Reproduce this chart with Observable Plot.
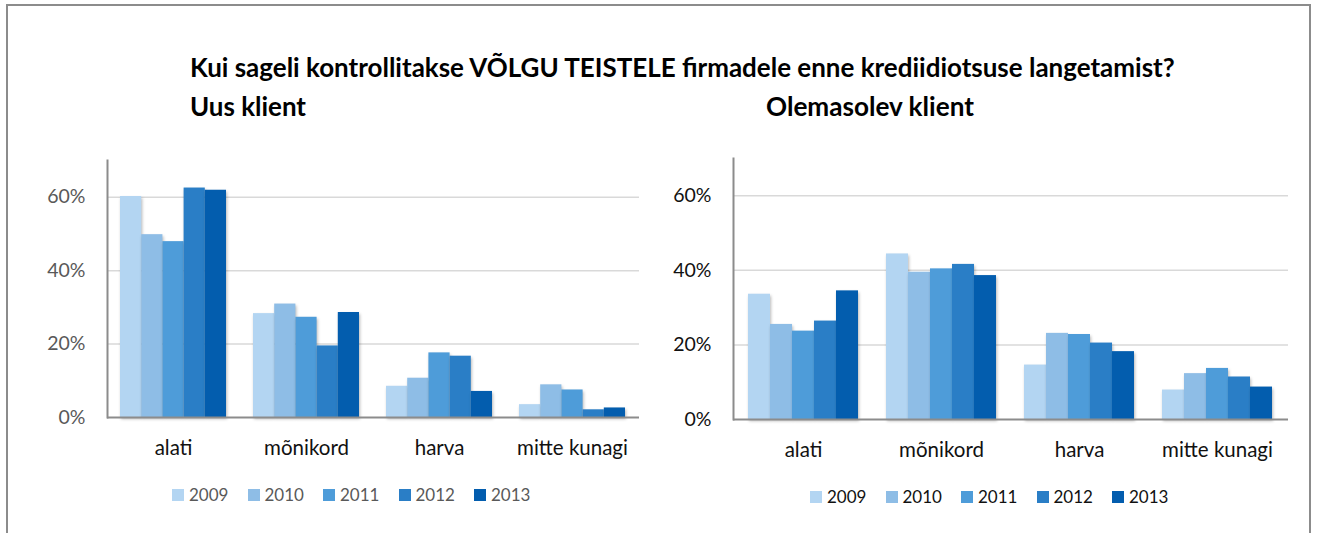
<!DOCTYPE html>
<html>
<head>
<meta charset="utf-8">
<script src="https://cdn.jsdelivr.net/npm/d3@7"></script>
<script src="https://cdn.jsdelivr.net/npm/@observablehq/plot@0.6"></script>
<style>
  body { margin: 0; background: #fff; }
  #root { position: relative; width: 1319px; height: 533px; overflow: hidden; font-family: Lato, "Open Sans", sans-serif; background: #fff; }
  #frame { position: absolute; left: 6px; top: 4px; width: 1305px; height: 560px; border: 2px solid #8c8c8c; box-sizing: border-box; }
  .abs { position: absolute; white-space: nowrap; }
  #title { left: 190px; top: 51px; font-weight: 700; font-size: 23px; color: #000; }
  .sub { top: 90px; font-weight: 700; font-size: 23px; color: #000; }
  .legend { position: absolute; display: flex; align-items: center; font-size: 17px; }
  .legend .item { display: flex; align-items: center; width: 75.5px; }
  .legend .sw { width: 12px; height: 12px; margin-right: 5px; flex: none; }
  .chart { position: absolute; top: 140px; }
  .chart svg { overflow: visible; }
  .bars rect { filter: drop-shadow(1.5px 2.5px 1.5px rgba(0,0,0,0.28)); }
</style>
</head>
<body>
<div id="root">
  <div id="frame"></div>
  <div id="title" class="abs">Kui sageli kontrollitakse VÕLGU TEISTELE firmadele enne krediidiotsuse langetamist?</div>
  <div id="sub1" class="abs sub" style="left:190px">Uus klient</div>
  <div id="sub2" class="abs sub" style="left:766px">Olemasolev klient</div>
</div>
<script>
// ---- data ----
const categories = ["alati", "mõnikord", "harva", "mitte kunagi"];
const years = ["2009", "2010", "2011", "2012", "2013"];
const yearColors = ["#b3d5f2", "#8ebde6", "#4e9cd9", "#2a7ec6", "#035dae"];
const yTicks = [0, 20, 40, 60];

// rows: years 2009..2013, columns: categories
const uusKlient = [
  [60.2, 28.3, 8.5, 3.5],
  [49.8, 30.9, 10.7, 8.9],
  [47.9, 27.3, 17.6, 7.5],
  [62.5, 19.5, 16.7, 2.1],
  [61.9, 28.6, 7.1, 2.6]
];
const olemasolevKlient = [
  [33.6, 44.4, 14.6, 7.9],
  [25.5, 39.5, 23.1, 12.3],
  [23.7, 40.4, 22.8, 13.7],
  [26.4, 41.6, 20.5, 11.4],
  [34.5, 38.6, 18.2, 8.7]
];

const root = document.getElementById("root");

function makeChart(values, cfg) {
  const data = [];
  years.forEach((yr, i) => categories.forEach((c, j) => data.push({year: yr, category: c, value: values[i][j]})));
  const pI = 0.2, pO = 0.1;
  const base = {
    width: cfg.width, height: cfg.height,
    marginLeft: cfg.ml, marginRight: cfg.mr, marginTop: cfg.mt, marginBottom: cfg.mb,
    style: {fontFamily: "Lato, 'Open Sans', sans-serif", background: "transparent", overflow: "visible"},
    x: {domain: categories, paddingInner: pI, paddingOuter: pO, label: null, axis: null},
    y: {domain: [0, 70], label: null, axis: null}
  };
  // read the band width from the library's own x scale
  const probe = Plot.plot({...base, marks: [Plot.barY(data, {x: "category", y: "value"})]});
  const sx = probe.scale("x");
  let bw = sx && sx.bandwidth;
  if (!(bw > 0)) {
    const range = cfg.width - cfg.ml - cfg.mr;
    const step = range / (categories.length - pI + 2 * pO);
    bw = step * (1 - pI);
  }
  const w = bw / years.length;
  const marks = [
    Plot.ruleY(yTicks.filter(d => d > 0), {stroke: "#d9d9d9", strokeWidth: 1.5}),
    ...years.map((yr, i) => Plot.barY(data.filter(d => d.year === yr), {
      x: "category", y: "value", fill: yearColors[i],
      insetLeft: i * w, insetRight: (years.length - 1 - i) * w, className: "bars"
    })),
    Plot.ruleY([0], {stroke: "#8c8c8c", strokeWidth: 2}),
    Plot.frame({anchor: "left", stroke: "#8c8c8c", strokeWidth: 2}),
    Plot.axisX({tickSize: 0, tickPadding: 23, fontSize: 20.5, fill: "#111"}),
    Plot.axisY({ticks: yTicks, tickFormat: d => d + "%", tickSize: 0, tickPadding: 22, fontSize: 19.5, fill: cfg.yColor, label: null})
  ];
  const svg = Plot.plot({...base, marks});
  const div = document.createElement("div");
  div.className = "chart";
  div.style.left = cfg.left + "px";
  div.appendChild(svg);
  root.appendChild(div);

  const leg = document.createElement("div");
  leg.className = "legend";
  leg.style.left = cfg.legLeft + "px";
  leg.style.top = cfg.legTop + "px";
  leg.style.color = cfg.legColor;
  years.forEach((yr, i) => {
    const it = document.createElement("div");
    it.className = "item";
    it.innerHTML = `<span class="sw" style="background:${yearColors[i]}"></span><span>${yr}</span>`;
    leg.appendChild(it);
  });
  root.appendChild(leg);
}

makeChart(uusKlient, {left: 0, width: 660, height: 330, ml: 107, mr: 21, mt: 20, mb: 53, yColor: "#595959", legLeft: 172, legTop: 484, legColor: "#595959"});
makeChart(olemasolevKlient, {left: 660, width: 659, height: 330, ml: 73, mr: 31, mt: 18, mb: 51, yColor: "#111", legLeft: 810, legTop: 486, legColor: "#111"});

// fit heading text widths to the reference spans
function fit(id, target) {
  const el = document.getElementById(id);
  const wdt = el.getBoundingClientRect().width;
  el.style.fontSize = (23 * target / wdt).toFixed(2) + "px";
}
fit("title", 985);
fit("sub1", 116);
fit("sub2", 208);
</script>
</body>
</html>
